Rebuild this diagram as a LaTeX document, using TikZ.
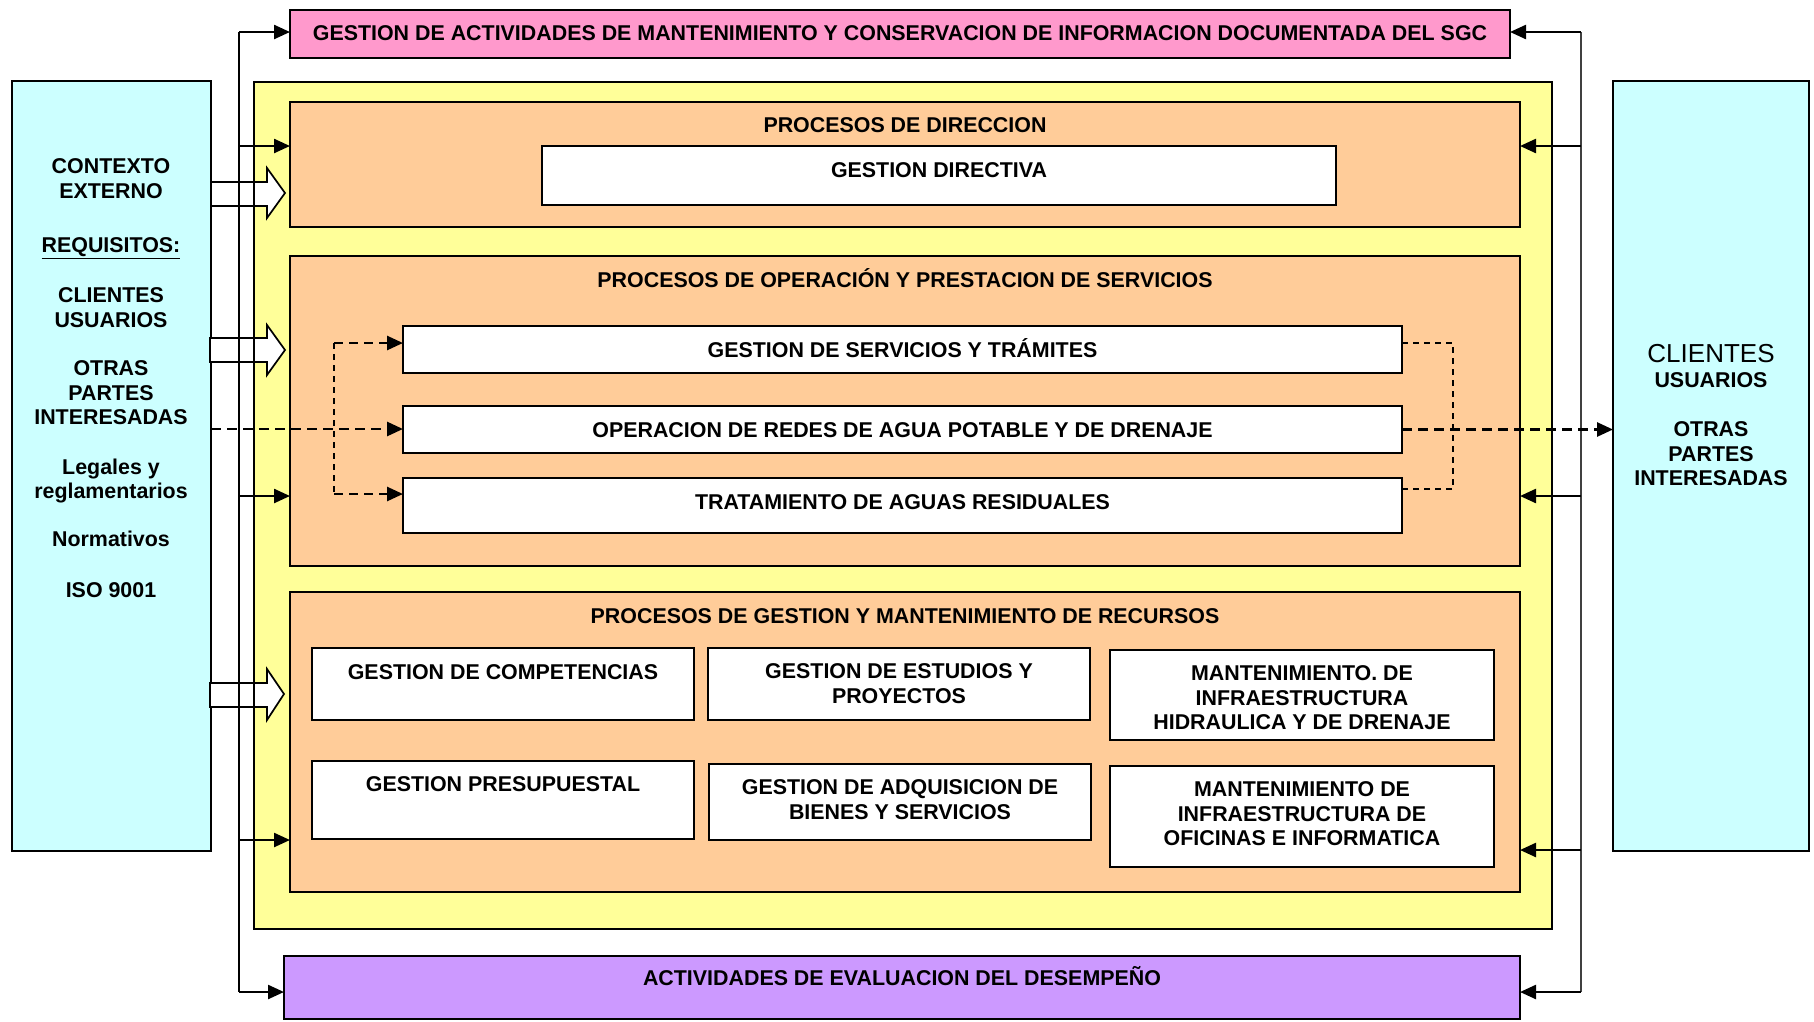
\documentclass[tikz,border=0pt]{standalone}
\usepackage{fontspec}
\setmainfont{Liberation Sans}
\usetikzlibrary{arrows.meta}
\definecolor{cyanbg}{HTML}{CCFFFF}
\definecolor{pinkbg}{HTML}{FF99CC}
\definecolor{yellowbg}{HTML}{FFFF99}
\definecolor{orangebg}{HTML}{FFCC99}
\definecolor{purplebg}{HTML}{CC99FF}
\begin{document}
\begin{tikzpicture}[x=1pt,y=-1pt,
  box/.style={draw=black, line width=2.4pt, inner sep=0pt, outer sep=0pt, anchor=north west},
  txt/.style={font=\bfseries\fontsize{21.4}{24.5}\selectfont, inner sep=0pt, align=center},
  one/.style={txt, text height=15.3pt, text depth=0pt},
  multi/.style={txt, anchor=north},
  tip/.style={-{Triangle[length=16pt,width=14pt]}},
  conn/.style={line width=2.4pt, tip},
  busline/.style={line width=2.4pt},
  dashmain/.style={line width=2.7pt, dash pattern=on 10pt off 6pt},
  dashthin/.style={line width=1.7pt, dash pattern=on 6pt off 5pt},
  dashshort/.style={line width=2.6pt, dash pattern=on 9pt off 6pt},
  hollow/.style={draw=black, fill=white, line width=1.7pt, line join=miter}
  ]
\useasboundingbox (0,0) rectangle (1814,1021);
\fill[white] (0,0) rectangle (1814,1021);

% side boxes
\node[box, fill=cyanbg, minimum width=199pt, minimum height=770pt] (lcyan) at (12,81) {};
\node[box, fill=cyanbg, minimum width=196pt, minimum height=770pt] (rcyan) at (1613,81) {};

% main containers
\node[box, fill=yellowbg, minimum width=1298pt, minimum height=847pt] (yellow) at (254,82) {};
\node[box, fill=orangebg, minimum width=1230pt, minimum height=125pt] (dir) at (290,102) {};
\node[box, fill=orangebg, minimum width=1230pt, minimum height=310pt] (oper) at (290,256) {};
\node[box, fill=orangebg, minimum width=1230pt, minimum height=300pt] (rec) at (290,592) {};

% white process boxes
\node[box, fill=white, minimum width=794pt, minimum height=59pt] (gdir) at (542,146) {};
\node[box, fill=white, minimum width=999pt, minimum height=47pt] (serv) at (403,326) {};
\node[box, fill=white, minimum width=999pt, minimum height=47pt] (opred) at (403,406) {};
\node[box, fill=white, minimum width=999pt, minimum height=55pt] (trat) at (403,478) {};
\node[box, fill=white, minimum width=382pt, minimum height=72pt] (comp) at (312,648) {};
\node[box, fill=white, minimum width=382pt, minimum height=72pt] (estu) at (708,648) {};
\node[box, fill=white, minimum width=384pt, minimum height=90pt] (mant1) at (1110,650) {};
\node[box, fill=white, minimum width=382pt, minimum height=78pt] (presu) at (312,761) {};
\node[box, fill=white, minimum width=382pt, minimum height=76pt] (adq) at (709,764) {};
\node[box, fill=white, minimum width=384pt, minimum height=101pt] (mant2) at (1110,766) {};

% top and bottom bars
\node[box, fill=pinkbg, minimum width=1220pt, minimum height=48pt] (pink) at (290,10) {};
\node[box, fill=purplebg, minimum width=1236pt, minimum height=63pt] (purple) at (284,956) {};

% texts
\node[one] (tpink) at (900,33) {GESTION DE ACTIVIDADES DE MANTENIMIENTO Y CONSERVACION DE INFORMACION DOCUMENTADA DEL SGC};
\node[one] (tpurple) at (902,978) {ACTIVIDADES DE EVALUACION DEL DESEMPEÑO};
\node[one] (tdir) at (905,125) {PROCESOS DE DIRECCION};
\node[one] (tgdir) at (939,170) {GESTION DIRECTIVA};
\node[one] (toper) at (905,280) {PROCESOS DE OPERACIÓN Y PRESTACION DE SERVICIOS};
\node[one] (tserv) at (902.5,350) {GESTION DE SERVICIOS Y TRÁMITES};
\node[one] (topred) at (902.5,430) {OPERACION DE REDES DE AGUA POTABLE Y DE DRENAJE};
\node[one] (ttrat) at (902.5,502) {TRATAMIENTO DE AGUAS RESIDUALES};
\node[one] (trec) at (905,616) {PROCESOS DE GESTION Y MANTENIMIENTO DE RECURSOS};
\node[one] (tcomp) at (503,672) {GESTION DE COMPETENCIAS};
\node[one] (tpresu) at (503,784) {GESTION PRESUPUESTAL};
\node[multi] (testu) at (899,663.5) {GESTION DE ESTUDIOS Y\\PROYECTOS};
\node[multi] (tadq) at (900,779.5) {GESTION DE ADQUISICION DE\\BIENES Y SERVICIOS};
\node[multi] (tmant1) at (1302,665.5) {MANTENIMIENTO. DE\\INFRAESTRUCTURA\\HIDRAULICA Y DE DRENAJE};
\node[multi] (tmant2) at (1302,781.5) {MANTENIMIENTO DE\\INFRAESTRUCTURA DE\\OFICINAS E INFORMATICA};

% left side texts
\node[multi] (lctx) at (111,158.5) {CONTEXTO\\EXTERNO};
\node[one] (lreq) at (111,245) {\underline{REQUISITOS:}};
\node[multi] (lcli) at (111,287.5) {CLIENTES\\USUARIOS};
\node[multi] (lotr) at (111,360.5) {OTRAS\\PARTES\\INTERESADAS};
\node[multi] (lleg) at (111,458.5) {Legales y\\reglamentarios};
\node[one] (lnorm) at (111,539) {Normativos};
\node[one] (liso) at (111,590) {ISO 9001};

% right side texts
\node[inner sep=0pt, font=\fontsize{26}{30}\selectfont, text height=18.6pt, text depth=0pt] (rcli) at (1711,353) {CLIENTES};
\node[one] (rusu) at (1711,380) {USUARIOS};
\node[multi] (rotr) at (1711,421.5) {OTRAS\\PARTES\\INTERESADAS};

% hollow block arrows
\draw[hollow] (211,182) -- (267,182) -- (267,168) -- (285,193) -- (267,218) -- (267,206) -- (211,206) -- cycle;
\draw[hollow] (210,338) -- (267,338) -- (267,325) -- (285,350) -- (267,375) -- (267,362) -- (210,362) -- cycle;
\draw[hollow] (210,683) -- (267,683) -- (267,669) -- (284,694) -- (267,720) -- (267,707) -- (210,707) -- cycle;
\draw[line width=2.4pt] (yellow.north west) -- (yellow.south west);

% left bus
\coordinate (lbT) at (239,32);
\coordinate (lb2) at (239,146);
\coordinate (lb3) at (239,496);
\coordinate (lb4) at (239,840);
\coordinate (lbB) at (239,992);
\draw[busline] (lbT) -- (lbB);
\draw[conn] (lbT) -- (lbT -| pink.west);
\draw[conn] (lb2) -- (lb2 -| dir.west);
\draw[conn] (lb3) -- (lb3 -| oper.west);
\draw[conn] (lb4) -- (lb4 -| rec.west);
\draw[conn] (lbB) -- (lbB -| purple.west);

% right bus
\coordinate (rbT) at (1581,32);
\coordinate (rb2) at (1581,146);
\coordinate (rb3) at (1581,496);
\coordinate (rb4) at (1581,850);
\coordinate (rbB) at (1581,992);
\draw[busline, draw=black!75] (rbT) -- (rbB);
\draw[conn] (rbT) -- (rbT -| pink.east);
\draw[conn] (rb2) -- (rb2 -| dir.east);
\draw[conn] (rb3) -- (rb3 -| oper.east);
\draw[conn] (rb4) -- (rb4 -| rec.east);
\draw[conn] (rbB) -- (rbB -| purple.east);

% dashed flows
\coordinate (dm) at (211,429);
\draw[dashmain, tip] (dm) -- (dm -| opred.west);
\draw[dashmain, tip] (opred.east) -- (opred.east -| rcyan.west);
\coordinate (lp1) at (334,343);
\coordinate (lp2) at (334,494);
\draw[dashthin] (lp1) -- (lp2);
\draw[dashshort, tip] (lp1) -- (lp1 -| serv.west);
\draw[dashshort, tip] (lp2) -- (lp2 -| trat.west);
\coordinate (rp1) at (1453,343);
\coordinate (rp2) at (1453,489);
\draw[dashthin] (rp1 -| serv.east) -- (rp1) -- (rp2) -- (rp2 -| trat.east);
\end{tikzpicture}
\end{document}
